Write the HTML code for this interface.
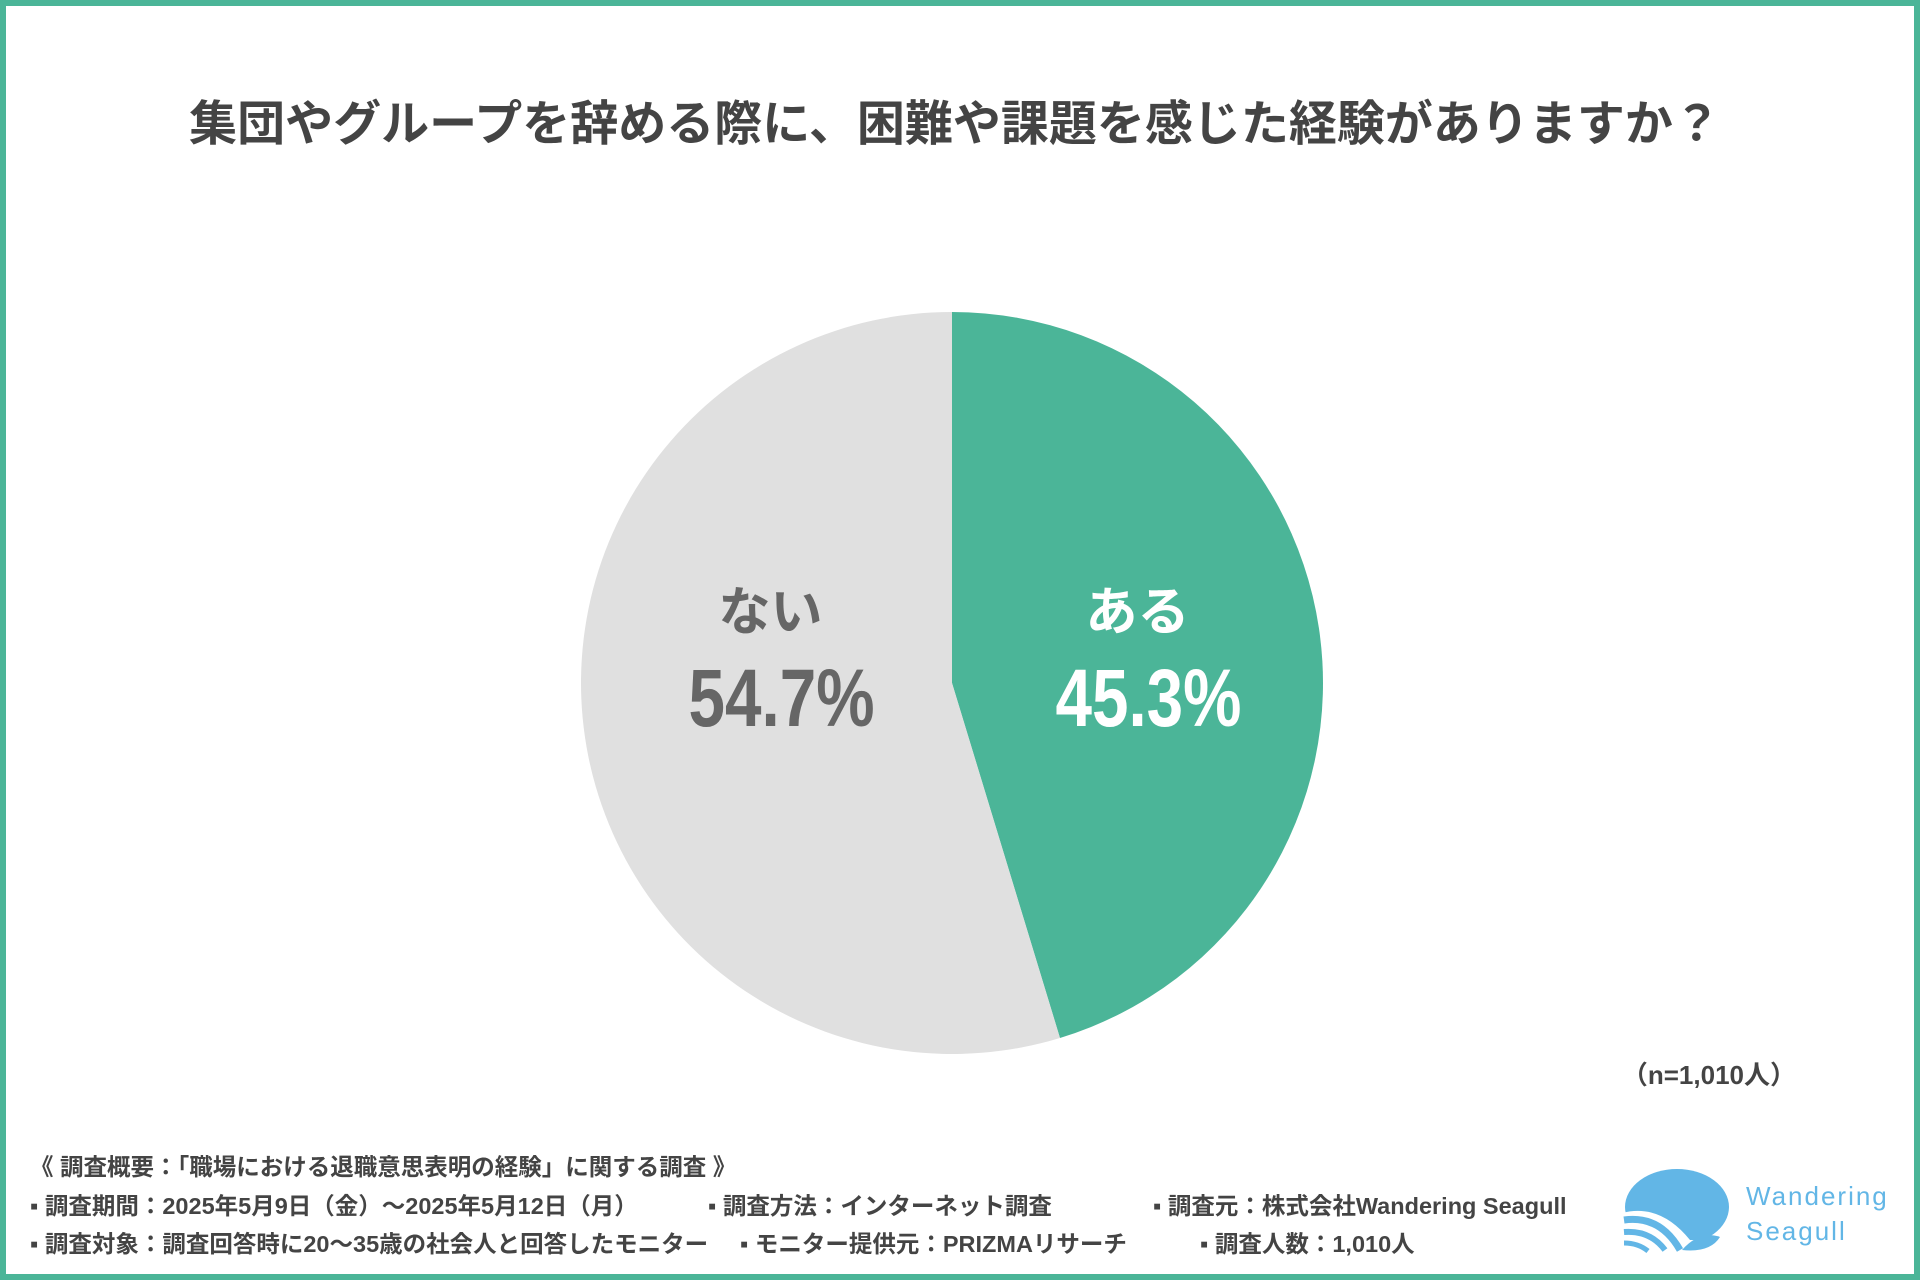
<!DOCTYPE html>
<html><head><meta charset="utf-8">
<style>
html,body{margin:0;padding:0;}
body{width:1920px;height:1280px;position:relative;background:#fff;font-family:"Liberation Sans","Noto Sans CJK JP",sans-serif;overflow:hidden;}
.frame{position:absolute;left:0;top:0;width:1908px;height:1268px;border:6px solid #4bb598;}
.t{position:absolute;white-space:nowrap;}
.foot{position:absolute;left:30px;font-size:23.5px;font-weight:bold;color:#444;white-space:nowrap;}
</style></head>
<body>
<div class="frame"></div>
<div class="t" style="left:0;width:1910px;text-align:center;top:84px;font-size:48px;font-weight:bold;color:#444;">集団やグループを辞める際に、困難や課題を感じた経験がありますか？</div>
<svg id="pie" width="1920" height="1280" style="position:absolute;left:0;top:0;"></svg>
<div class="t" style="right:124px;top:1055px;font-size:26px;font-weight:bold;color:#444;">（n=1,010人）</div>
<div class="foot" style="top:1148px;">《 調査概要：「職場における退職意思表明の経験」に関する調査 》</div>
<div class="foot" style="top:1187px;">▪ 調査期間：2025年5月9日（金）～2025年5月12日（月）</div>
<div class="foot" style="top:1187px;left:708px;">▪ 調査方法：インターネット調査</div>
<div class="foot" style="top:1187px;left:1153px;">▪ 調査元：株式会社Wandering Seagull</div>
<div class="foot" style="top:1225px;">▪ 調査対象：調査回答時に20～35歳の社会人と回答したモニター</div>
<div class="foot" style="top:1225px;left:740px;">▪ モニター提供元：PRIZMAリサーチ</div>
<div class="foot" style="top:1225px;left:1200px;">▪ 調査人数：1,010人</div>
<svg style="position:absolute;left:1620px;top:1165px;" width="290" height="95">
 <ellipse cx="57" cy="42" rx="52" ry="38" fill="#62b6e6"/>
 <path d="M2 48 Q40 38 70 75 L110 75 L110 95 L0 95Z" fill="#fff"/>
 <path d="M4 55 Q40 50 60 85" stroke="#62b6e6" stroke-width="7" fill="none"/>
 <path d="M4 67 Q30 65 45 85" stroke="#62b6e6" stroke-width="6" fill="none"/>
 <path d="M4 78 Q18 78 28 86" stroke="#62b6e6" stroke-width="5" fill="none"/>
 <path d="M62 85 Q80 65 100 72 Q90 88 62 85Z" fill="#62b6e6"/>
 <text x="126" y="40" font-size="26" fill="#62b6e6" letter-spacing="2" font-family="Liberation Sans, sans-serif">Wandering</text>
 <text x="126" y="75" font-size="26" fill="#62b6e6" letter-spacing="2" font-family="Liberation Sans, sans-serif">Seagull</text>
</svg>
<script>
const categories = ["ある","ない"];
const values = [45.3, 54.7];
const colors = ["#4bb598","#e0e0e0"];
const labelColors = ["#ffffff","#666666"];
const svg = document.getElementById('pie');
const NS = 'http://www.w3.org/2000/svg';
const cx = 952, cy = 683, r = 371;
const total = values.reduce((a,b)=>a+b,0);
function pt(frac, rad){ const a = frac*2*Math.PI - Math.PI/2; return [cx+rad*Math.cos(a), cy+rad*Math.sin(a)]; }
let acc = 0;
values.forEach((v,i)=>{
  const f0 = acc/total, f1 = (acc+v)/total; acc += v;
  const [x0,y0] = pt(f0,r), [x1,y1] = pt(f1,r);
  const large = (f1-f0) > 0.5 ? 1 : 0;
  const p = document.createElementNS(NS,'path');
  p.setAttribute('d',`M${cx},${cy} L${x0},${y0} A${r},${r} 0 ${large} 1 ${x1},${y1} Z`);
  p.setAttribute('fill',colors[i]);
  
  
  svg.appendChild(p);
  const mid = (f0+f1)/2;
  const [lx] = pt(mid, r*0.5);
  const t1 = document.createElementNS(NS,'text');
  t1.setAttribute('x', lx + 2); t1.setAttribute('y', cy - 53);
  t1.setAttribute('text-anchor','middle'); t1.setAttribute('font-size','52'); t1.setAttribute('font-weight','bold');
  t1.setAttribute('fill',labelColors[i]);
  t1.setAttribute('font-family','Liberation Sans, Noto Sans CJK JP, sans-serif');
  t1.textContent = categories[i];
  
  
  svg.appendChild(t1);
  const t2 = document.createElementNS(NS,'text');
  t2.setAttribute('x', 0); t2.setAttribute('y', 0);
  t2.setAttribute('transform',`translate(${lx+13},${cy+43}) scale(0.8,1)`);
  t2.setAttribute('text-anchor','middle'); t2.setAttribute('font-size','82'); t2.setAttribute('font-weight','bold');
  t2.setAttribute('fill',labelColors[i]);
  t2.setAttribute('font-family','Liberation Sans, sans-serif');
  t2.textContent = values[i].toFixed(1)+'%';
  
  
  svg.appendChild(t2);
});
</script>
</body></html>
